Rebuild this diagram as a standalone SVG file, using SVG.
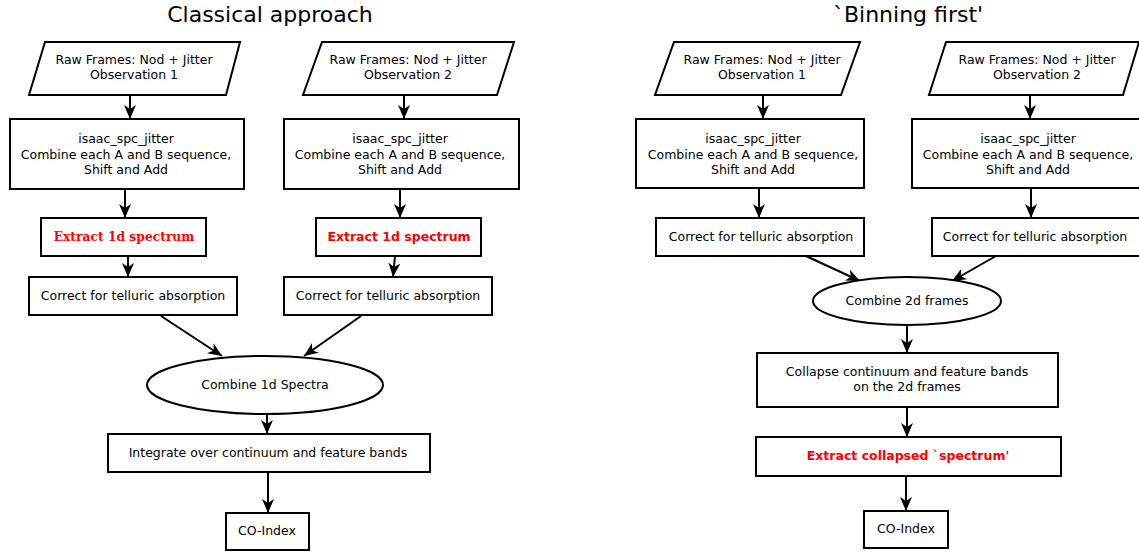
<svg xmlns="http://www.w3.org/2000/svg" width="1139" height="554" viewBox="0 0 1139 554">
<defs>
<marker id="ah" markerUnits="userSpaceOnUse" viewBox="0 0 14 12" refX="14" refY="6" markerWidth="14" markerHeight="12" orient="auto">
<path d="M0,0 L14,6 L0,12 L4,6 Z" fill="#000"/>
</marker>
<style>
.n{fill:#fff;stroke:#000;stroke-width:2}
.t{font-family:"DejaVu Sans",sans-serif;font-size:12.5px;fill:#000;text-anchor:middle}
.title{font-family:"DejaVu Sans",sans-serif;font-size:22px;fill:#000;text-anchor:middle}
.rs{font-family:"DejaVu Serif",serif;font-size:12.3px;font-weight:bold;fill:#ff0000;text-anchor:middle}
.rb{font-family:"DejaVu Sans",sans-serif;font-size:12.5px;font-weight:bold;fill:#ff0000;text-anchor:middle}
.c{fill:none;stroke:#000;stroke-width:2;marker-end:url(#ah)}
</style>
</defs>
<rect width="1139" height="554" fill="#fff"/>
<text class="title" x="270" y="22">Classical approach</text>
<text class="title" x="908" y="22">`Binning first'</text>

<g id="connectors">
<line class="c" x1="130" y1="95" x2="130" y2="119"/>
<line class="c" x1="404" y1="95" x2="404" y2="119"/>
<line class="c" x1="125" y1="189" x2="125" y2="218"/>
<line class="c" x1="400" y1="189" x2="400" y2="218"/>
<line class="c" x1="128" y1="256" x2="128" y2="277"/>
<line class="c" x1="395" y1="256" x2="393" y2="277"/>
<line class="c" x1="161" y1="316" x2="222" y2="356"/>
<line class="c" x1="361" y1="316" x2="304" y2="356"/>
<line class="c" x1="267" y1="414" x2="267" y2="434"/>
<line class="c" x1="268" y1="472" x2="268" y2="513"/>
<line class="c" x1="763" y1="95" x2="763" y2="119"/>
<line class="c" x1="1030" y1="95" x2="1030" y2="119"/>
<line class="c" x1="759" y1="188" x2="759" y2="218"/>
<line class="c" x1="1031" y1="188" x2="1031" y2="218"/>
<line class="c" x1="806" y1="256" x2="860" y2="281"/>
<line class="c" x1="996" y1="256" x2="952" y2="281"/>
<line class="c" x1="907" y1="324" x2="907" y2="353"/>
<line class="c" x1="907" y1="407" x2="907" y2="437"/>
<line class="c" x1="906" y1="476" x2="906" y2="511"/>
</g>

<g id="raw1"><polygon class="n" points="45,42 240,42 226,95 29,95"/>
<text class="t" x="134" y="64">Raw Frames: Nod + Jitter</text><text class="t" x="134" y="79">Observation 1</text></g>
<g id="raw2"><polygon class="n" points="322,42 514,42 497,95 303,95"/>
<text class="t" x="408" y="64">Raw Frames: Nod + Jitter</text><text class="t" x="408" y="79">Observation 2</text></g>
<g id="jit1"><rect class="n" x="10" y="119" width="234" height="70"/>
<text class="t" x="126" y="143">isaac_spc_jitter</text><text class="t" x="126" y="159">Combine each A and B sequence,</text><text class="t" x="126" y="174">Shift and Add</text></g>
<g id="jit2"><rect class="n" x="284" y="119" width="235" height="70"/>
<text class="t" x="400" y="143">isaac_spc_jitter</text><text class="t" x="400" y="159">Combine each A and B sequence,</text><text class="t" x="400" y="174">Shift and Add</text></g>
<g id="ext1"><rect class="n" x="41" y="218" width="165" height="38"/>
<text class="rs" x="124" y="241">Extract 1d spectrum</text></g>
<g id="ext2"><rect class="n" x="316" y="218" width="165" height="38"/>
<text class="rb" x="399" y="241">Extract 1d spectrum</text></g>
<g id="tel1"><rect class="n" x="29" y="277" width="208" height="38"/>
<text class="t" x="133" y="300">Correct for telluric absorption</text></g>
<g id="tel2"><rect class="n" x="284" y="277" width="208" height="38"/>
<text class="t" x="388" y="300">Correct for telluric absorption</text></g>
<g id="comb1"><ellipse class="n" cx="265" cy="385" rx="118" ry="29"/>
<text class="t" x="265" y="389">Combine 1d Spectra</text></g>
<g id="integ"><rect class="n" x="108" y="434" width="322" height="38"/>
<text class="t" x="268" y="457">Integrate over continuum and feature bands</text></g>
<g id="co1"><rect class="n" x="226" y="513" width="83" height="37"/>
<text class="t" x="267" y="535">CO-Index</text></g>

<g id="raw3"><polygon class="n" points="674,42 860,42 841,95 655,95"/>
<text class="t" x="762" y="64">Raw Frames: Nod + Jitter</text><text class="t" x="762" y="79">Observation 1</text></g>
<g id="raw4"><polygon class="n" points="946,42 1139,42 1123,95 929,95"/>
<text class="t" x="1037" y="64">Raw Frames: Nod + Jitter</text><text class="t" x="1037" y="79">Observation 2</text></g>
<g id="jit3"><rect class="n" x="636" y="119" width="228" height="69"/>
<text class="t" x="753" y="143">isaac_spc_jitter</text><text class="t" x="753" y="159">Combine each A and B sequence,</text><text class="t" x="753" y="174">Shift and Add</text></g>
<g id="jit4"><rect class="n" x="912" y="119" width="230" height="69"/>
<text class="t" x="1028" y="143">isaac_spc_jitter</text><text class="t" x="1028" y="159">Combine each A and B sequence,</text><text class="t" x="1028" y="174">Shift and Add</text></g>
<g id="tel3"><rect class="n" x="656" y="218" width="208" height="38"/>
<text class="t" x="761" y="241">Correct for telluric absorption</text></g>
<g id="tel4"><rect class="n" x="932" y="218" width="210" height="38"/>
<text class="t" x="1035" y="241">Correct for telluric absorption</text></g>
<g id="comb2"><ellipse class="n" cx="907" cy="301" rx="94" ry="24"/>
<text class="t" x="907" y="305">Combine 2d frames</text></g>
<g id="collapse"><rect class="n" x="757" y="353" width="301" height="54"/>
<text class="t" x="907" y="376">Collapse continuum and feature bands</text><text class="t" x="907" y="391">on the 2d frames</text></g>
<g id="ext3"><rect class="n" x="756" y="437" width="305" height="39"/>
<text class="rb" x="908" y="460">Extract collapsed `spectrum'</text></g>
<g id="co2"><rect class="n" x="864" y="511" width="84" height="37"/>
<text class="t" x="906" y="533">CO-Index</text></g>
</svg>
